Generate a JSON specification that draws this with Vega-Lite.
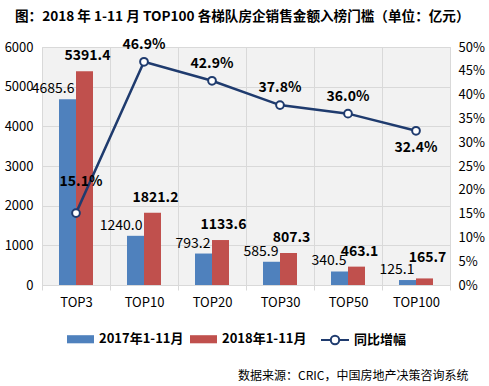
{
  "$schema": "https://vega.github.io/schema/vega-lite/v6.json",
  "width": 408,
  "height": 238,
  "autosize": {"type": "none"},
  "padding": {"left": 42, "top": 47, "right": 39, "bottom": 101},
  "background": "white",
  "config": {
    "font": "Noto Sans CJK SC",
    "view": {"fill": "#f2f2f2", "stroke": "#d9d9d9"},
    "axis": {"labelFont": "Noto Sans CJK SC", "labelFontSize": 13, "labelColor": "#000000", "titleFont": "Noto Sans CJK SC"}
  },
  "title": {
    "text": "图：2018 年 1-11 月 TOP100 各梯队房企销售金额入榜门槛（单位：亿元）",
    "anchor": "start",
    "frame": "group",
    "dx": -27,
    "offset": 14,
    "fontSize": 13.6,
    "fontWeight": "bold",
    "font": "Noto Sans CJK SC",
    "color": "#000000"
  },
  "datasets": {
    "sales": [
      {"tier": "TOP3", "series": "2017年1-11月", "value": 4685.6},
      {"tier": "TOP3", "series": "2018年1-11月", "value": 5391.4},
      {"tier": "TOP10", "series": "2017年1-11月", "value": 1240.0},
      {"tier": "TOP10", "series": "2018年1-11月", "value": 1821.2},
      {"tier": "TOP20", "series": "2017年1-11月", "value": 793.2},
      {"tier": "TOP20", "series": "2018年1-11月", "value": 1133.6},
      {"tier": "TOP30", "series": "2017年1-11月", "value": 585.9},
      {"tier": "TOP30", "series": "2018年1-11月", "value": 807.3},
      {"tier": "TOP50", "series": "2017年1-11月", "value": 340.5},
      {"tier": "TOP50", "series": "2018年1-11月", "value": 463.1},
      {"tier": "TOP100", "series": "2017年1-11月", "value": 125.1},
      {"tier": "TOP100", "series": "2018年1-11月", "value": 165.7}
    ],
    "growth": [
      {"tier": "TOP3", "growth": 0.151},
      {"tier": "TOP10", "growth": 0.469},
      {"tier": "TOP20", "growth": 0.429},
      {"tier": "TOP30", "growth": 0.378},
      {"tier": "TOP50", "growth": 0.360},
      {"tier": "TOP100", "growth": 0.324}
    ]
  },
  "encoding": {
    "x": {
      "field": "tier",
      "type": "nominal",
      "sort": ["TOP3", "TOP10", "TOP20", "TOP30", "TOP50", "TOP100"],
      "scale": {"paddingInner": 0, "paddingOuter": 0},
      "axis": {
        "title": "数据来源：CRIC，中国房地产决策咨询系统",
        "titleX": 426,
        "titleY": 90,
        "titleAlign": "right",
        "titleBaseline": "middle",
        "titleFontSize": 12,
        "titleFontWeight": "normal",
        "titleColor": "#000000",
        "labelAngle": 0,
        "tickBand": "extent",
        "grid": true,
        "gridColor": "#d9d9d9",
        "ticks": true,
        "tickSize": 5,
        "tickColor": "#d9d9d9",
        "domainColor": "#d9d9d9",
        "labelPadding": 6
      }
    }
  },
  "layer": [
    {
      "data": {"name": "sales"},
      "encoding": {
        "y": {
          "field": "value",
          "type": "quantitative",
          "scale": {"domain": [0, 6000], "nice": false},
          "axis": {
            "title": null,
            "values": [0, 1000, 2000, 3000, 4000, 5000, 6000],
            "format": "d",
            "grid": true,
            "gridColor": "#d9d9d9",
            "ticks": false,
            "domain": false,
            "labelPadding": 9
          }
        },
        "xOffset": {
          "field": "series",
          "type": "nominal",
          "scale": {"paddingInner": 0, "paddingOuter": 1.27}
        }
      },
      "layer": [
        {
          "mark": {"type": "bar"},
          "encoding": {
            "color": {
              "field": "series",
              "type": "nominal",
              "scale": {"domain": ["2017年1-11月", "2018年1-11月"], "range": ["#4F81BD", "#C0504D"]},
              "legend": {
                "orient": "none",
                "legendX": 25,
                "legendY": 278.5,
                "direction": "horizontal",
                "title": null,
                "symbolType": "M-1,-0.3H1V0.3H-1Z",
                "symbolSize": 729,
                "symbolStrokeWidth": 0,
                "labelFont": "Noto Sans CJK SC",
                "labelFontSize": 13,
                "labelFontWeight": "bold",
                "labelColor": "#000000",
                "labelOffset": 5,
                "columnPadding": 6,
                "padding": 0
              }
            }
          }
        },
        {
          "transform": [{"filter": "datum.series === '2017年1-11月'"}],
          "mark": {"type": "text", "align": "right", "baseline": "middle", "dx": 7, "dy": -10, "fontSize": 14, "color": "#000000"},
          "encoding": {"text": {"field": "value", "type": "quantitative", "format": ".1f"}}
        },
        {
          "transform": [{"filter": "datum.series === '2018年1-11月' && datum.tier !== 'TOP100'"}],
          "mark": {"type": "text", "align": "center", "baseline": "middle", "dx": 3, "dy": -15, "fontSize": 14, "fontWeight": "bold", "color": "#000000"},
          "encoding": {"text": {"field": "value", "type": "quantitative", "format": ".1f"}}
        },
        {
          "transform": [{"filter": "datum.series === '2018年1-11月' && datum.tier === 'TOP100'"}],
          "mark": {"type": "text", "align": "center", "baseline": "middle", "dx": 3, "dy": -20, "fontSize": 14, "fontWeight": "bold", "color": "#000000"},
          "encoding": {"text": {"field": "value", "type": "quantitative", "format": ".1f"}}
        }
      ]
    },
    {
      "data": {"name": "growth"},
      "encoding": {
        "y": {
          "field": "growth",
          "type": "quantitative",
          "scale": {"domain": [0, 0.5], "nice": false},
          "axis": {
            "orient": "right",
            "title": null,
            "values": [0, 0.05, 0.1, 0.15, 0.2, 0.25, 0.3, 0.35, 0.4, 0.45, 0.5],
            "format": ".0%",
            "grid": false,
            "ticks": false,
            "domain": false,
            "labelPadding": 8
          }
        }
      },
      "layer": [
        {
          "mark": {"type": "line", "strokeWidth": 2.5},
          "encoding": {
            "stroke": {
              "datum": "同比增幅",
              "type": "nominal",
              "scale": {"domain": ["同比增幅"], "range": ["#1F3B6E"]},
              "legend": {
                "orient": "none",
                "legendX": 278,
                "legendY": 278,
                "title": null,
                "symbolType": "M-1,0H-0.3M0.3,0H1M-0.3,0A0.3,0.3 0 1,0 0.3,0A0.3,0.3 0 1,0 -0.3,0Z",
                "symbolSize": 784,
                "symbolStrokeWidth": 2,
                "symbolFillColor": "white",
                "labelFont": "Noto Sans CJK SC",
                "labelFontSize": 13,
                "labelFontWeight": "bold",
                "labelColor": "#000000",
                "labelOffset": 4,
                "padding": 0,
                "encode": {"symbols": {"update": {"fill": {"value": "white"}, "stroke": {"value": "#1F3B6E"}, "strokeWidth": {"value": 2}}}}
              }
            }
          }
        },
        {
          "mark": {"type": "point", "shape": "circle", "filled": true, "fill": "white", "stroke": "#1F3B6E", "strokeWidth": 2, "size": 60, "opacity": 1}
        },
        {
          "transform": [{"filter": "datum.tier !== 'TOP3' && datum.tier !== 'TOP100'"}],
          "mark": {"type": "text", "align": "center", "baseline": "middle", "dy": -17, "fontSize": 14, "fontWeight": "bold", "color": "#000000"},
          "encoding": {"text": {"field": "growth", "type": "quantitative", "format": ".1%"}}
        },
        {
          "transform": [{"filter": "datum.tier === 'TOP3'"}],
          "mark": {"type": "text", "align": "center", "baseline": "middle", "dx": 5, "dy": -31, "fontSize": 14, "fontWeight": "bold", "color": "#000000"},
          "encoding": {"text": {"field": "growth", "type": "quantitative", "format": ".1%"}}
        },
        {
          "transform": [{"filter": "datum.tier === 'TOP100'"}],
          "mark": {"type": "text", "align": "center", "baseline": "middle", "dy": 17, "fontSize": 14, "fontWeight": "bold", "color": "#000000"},
          "encoding": {"text": {"field": "growth", "type": "quantitative", "format": ".1%"}}
        }
      ]
    }
  ],
  "resolve": {"scale": {"y": "independent", "color": "independent"}}
}
